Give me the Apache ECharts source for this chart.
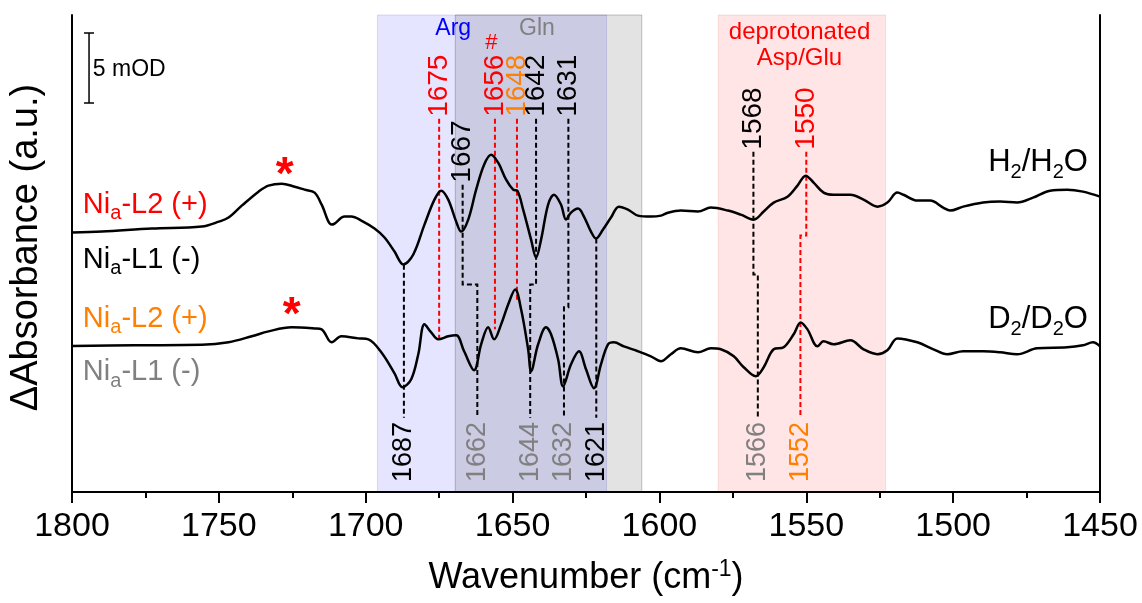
<!DOCTYPE html>
<html><head><meta charset="utf-8">
<script src="https://cdn.jsdelivr.net/npm/echarts@6/dist/echarts.min.js"></script>
<style>html,body{margin:0;padding:0;background:#fff}#c{width:1142px;height:603px}</style>
</head><body><div id="c"></div>
<script>
const FONT = '"Liberation Sans", Arial, Helvetica, sans-serif';

// ---- spectra (wavenumber in cm-1, ΔAbsorbance in mOD, offset traces) ----
const h2oWavenumber = [1800,1789.8,1772.8,1755.8,1750.0,1746.7,1742.2,1736.5,1733.1,1728.6,1724.2,1720.8,1717.4,1715.0,1711.6,1710.6,1707.2,1704.9,1701.5,1697.0,1693.6,1690.2,1687.2,1683.8,1680.0,1676.6,1674.3,1671.9,1669.2,1667.5,1665.1,1662.4,1659.7,1657.3,1654.9,1652.2,1649.8,1648.4,1646.4,1643.7,1642.0,1640.3,1637.9,1635.9,1633.5,1631.8,1630.1,1627.7,1625.7,1623.3,1621.6,1619.2,1616.5,1613.8,1610.7,1607.3,1602.9,1599.5,1597.1,1592.7,1586.9,1582.5,1576.7,1572.3,1567.9,1564.5,1561.1,1556.4,1553.0,1550.2,1547.5,1544.1,1540.7,1535.0,1530.5,1525.8,1522.4,1519.0,1516.9,1512.2,1507.8,1503.4,1501.0,1496.6,1489.8,1484.0,1478.2,1472.8,1467.0,1461.2,1455.8,1450];
const h2oAbsorbance = [18.49,18.56,18.78,18.92,19.27,19.56,20.41,21.41,21.84,21.98,21.76,21.55,21.34,20.48,19.06,19.13,19.63,19.63,19.35,18.78,18.14,17.14,16.22,16.93,19.06,20.84,21.48,20.84,19.27,18.56,19.42,21.55,23.33,24.04,23.47,22.26,21.55,21.48,20.13,17.99,16.71,17.99,20.48,21.19,20.48,19.42,19.91,20.20,19.63,18.56,18.07,18.71,19.56,20.34,20.13,19.70,19.63,19.70,19.91,20.06,19.99,20.27,20.06,19.77,19.42,19.99,20.63,21.05,21.84,22.55,22.05,21.34,21.19,21.19,20.84,20.34,20.63,21.34,21.19,20.77,20.77,20.27,20.06,20.34,20.63,20.70,20.63,20.98,21.48,21.55,21.41,21.05];

const d2oWavenumber = [1800,1778.6,1755.8,1746.7,1738.8,1733.1,1725.2,1717.4,1715.0,1711.6,1708.3,1702.5,1699.1,1694.7,1690.2,1687.5,1684.5,1682.1,1680.0,1677.7,1675.3,1671.9,1669.2,1666.5,1663.1,1660.7,1658.3,1656.3,1653.9,1651.5,1649.1,1647.1,1644.7,1643.7,1641.3,1638.6,1636.9,1634.5,1632.8,1630.1,1627.4,1625.0,1622.3,1619.9,1617.5,1615.5,1612.1,1607.3,1602.9,1599.5,1596.1,1592.7,1586.9,1582.5,1579.1,1574.7,1571.3,1567.2,1564.5,1561.1,1557.7,1554.3,1551.9,1549.6,1546.2,1544.1,1540.7,1535.0,1530.5,1525.8,1522.4,1519.0,1512.2,1506.7,1502.0,1496.6,1489.8,1484.0,1478.2,1471.4,1461.2,1455.8,1452.4,1450];
const d2oAbsorbance = [10.41,10.46,10.49,10.67,11.10,11.45,11.74,11.66,11.59,10.67,11.10,10.95,10.88,9.96,8.46,7.47,8.04,9.82,11.95,11.38,10.88,11.10,11.17,10.03,8.68,10.53,11.74,10.88,11.95,13.37,14.44,13.02,10.17,8.61,10.53,11.74,11.24,9.46,7.54,9.10,10.03,8.75,7.40,9.10,10.53,10.67,10.38,10.03,9.67,9.32,9.82,10.24,9.96,10.24,10.17,9.67,8.89,8.25,8.89,10.17,10.31,11.24,12.09,11.59,10.38,10.74,10.53,10.81,10.17,9.82,10.10,10.95,10.67,10.17,9.82,10.03,10.03,9.96,9.82,10.24,10.31,10.46,10.67,10.38];

// ---- axis ----
const xMin = 1450, xMax = 1800, xStep = 50;
const yMin = 0, yMax = 34;

// ---- shaded band assignments [from, to] cm-1 ----
const argBand = [1696, 1618];
const glnBand = [1669.5, 1606];
const aspGluBand = [1580, 1523];

// ---- peak labels ----
const topPeaks   = [1675, 1667, 1656, 1648.5, 1642, 1631, 1568, 1550];
const topTexts   = ['1675','1667','1656','1648','1642','1631','1568','1550'];
const topColors  = ['red','black','red','orange','black','black','black','red'];
const botPeaks   = [1687, 1662, 1644, 1632.5, 1621.5, 1566.5, 1552];
const botTexts   = ['1687','1662','1644','1632','1621','1566','1552'];
const botColors  = ['black','gray','gray','gray','black','gray','orange'];

// ---- connector paths (wavenumber, mOD) ----
const connectorPaths = [
  {color:'red',   pts:[[1675,26.6],[1675,10.9]]},
  {color:'black', pts:[[1667,21.9],[1667,14.79],[1662,14.79],[1662,5.3]]},
  {color:'red',   pts:[[1656,26.6],[1656,11.6]]},
  {color:'red',   pts:[[1648.5,26.6],[1648.5,13.7]]},
  {color:'black', pts:[[1642,26.6],[1642,14.79],[1644,14.79],[1644,5.3]]},
  {color:'black', pts:[[1631,26.6],[1631,13.16],[1632.5,13.16],[1632.5,5.3]]},
  {color:'black', pts:[[1621.5,18.07],[1621.5,5.3]]},
  {color:'black', pts:[[1687,16.2],[1687,5.3]]},
  {color:'black', pts:[[1568,24.25],[1568,15.5],[1566.5,15.5],[1566.5,5.3]]},
  {color:'red',   pts:[[1550,24.25],[1550,18.28],[1552,18.28],[1552,5.3]]}
];

const COL = {red:'#ff0000', black:'#000000', gray:'#808080', orange:'#ff7f00', blue:'#0000ff'};

const zip = (a, b) => a.map((v, i) => [v, b[i]]);

// text items placed in data coordinates
function txt(pos, formatter, opt) {
  return {
    value: pos,
    itemStyle: {opacity: 1},
    label: Object.assign({
      show: true, position: 'inside', formatter: formatter, opacity: 1,
      fontFamily: FONT, color: '#000', fontSize: 26
    }, opt)
  };
}

const topLabelY = [26.74, 22.05, 26.74, 26.74, 26.74, 26.74, 24.4, 24.4];
const botLabelY = 0.71;

const texts = [];
topPeaks.forEach((w, i) => texts.push(txt([w, topLabelY[i]], topTexts[i],
  {rotate: 90, align: 'left', verticalAlign: 'middle', fontSize: 28, color: COL[topColors[i]]})));
botPeaks.forEach((w, i) => texts.push(txt([w, botLabelY], botTexts[i],
  {rotate: 90, align: 'left', verticalAlign: 'middle', fontSize: 27, color: COL[botColors[i]]})));

const subRich = (pad) => ({s: {fontSize: 20, lineHeight: 20, padding: [pad, 0, 0, 0], fontFamily: FONT}});
texts.push(txt([1657.2, 32.0], '#', {fontSize: 22, color: COL.red}));
texts.push(txt([1670.2, 33.0], 'Arg', {fontSize: 23, color: COL.blue}));
texts.push(txt([1641.7, 33.0], 'Gln', {fontSize: 23, color: COL.gray}));
texts.push(txt([1552.3, 31.86], 'deprotonated\nAsp/Glu', {fontSize: 24, lineHeight: 26, color: COL.red}));
texts.push(txt([1792.9, 30.1], '5 mOD', {fontSize: 23, align: 'left', verticalAlign: 'middle'}));
texts.push(txt([1796.3, 20.48], 'Ni{s|a}-L2 (+)', {fontSize: 29, lineHeight: 30, align: 'left', color: COL.red, rich: subRich(18)}));
texts.push(txt([1796.3, 16.57], 'Ni{s|a}-L1 (-)', {fontSize: 29, lineHeight: 30, align: 'left', color: COL.black, rich: subRich(18)}));
texts.push(txt([1796.3, 12.35], 'Ni{s|a}-L2 (+)', {fontSize: 29, lineHeight: 30, align: 'left', color: COL.orange, rich: subRich(18)}));
texts.push(txt([1796.3, 8.55], 'Ni{s|a}-L1 (-)', {fontSize: 29, lineHeight: 30, align: 'left', color: COL.gray, rich: subRich(18)}));
texts.push(txt([1454.1, 23.47], 'H{s|2}/H{s|2}O', {fontSize: 31, lineHeight: 31, align: 'right', rich: subRich(20)}));
texts.push(txt([1454.1, 12.3], 'D{s|2}/D{s|2}O', {fontSize: 31, lineHeight: 31, align: 'right', rich: subRich(20)}));
texts.push(txt([1727.6, 22.47], '*', {fontSize: 46, fontWeight: 'bold', color: COL.red}));
texts.push(txt([1725.2, 12.52], '*', {fontSize: 46, fontWeight: 'bold', color: COL.red}));

const axisLineStyle = {color: '#000', width: 2};

const option = {
  animation: false,
  backgroundColor: '#fff',
  grid: {left: 70, right: 42, top: 15, bottom: 110, containLabel: false},
  xAxis: [{
    type: 'value', min: xMin, max: xMax, interval: xStep, inverse: true, position: 'bottom', z: 10,
    axisLine: {show: true, lineStyle: axisLineStyle},
    axisTick: {show: true, inside: false, length: 11, lineStyle: {color: '#000', width: 2}},
    minorTick: {show: true, splitNumber: 2, length: 6, lineStyle: {color: '#000', width: 2}},
    axisLabel: {fontSize: 34, color: '#000', margin: 18, fontFamily: FONT, formatter: v => String(v)},
    splitLine: {show: false}, minorSplitLine: {show: false},
    name: 'Wavenumber (cm{sup|-1})', nameLocation: 'middle', nameGap: 68,
    nameTextStyle: {fontSize: 36, color: '#000', fontFamily: FONT, lineHeight: 36,
      rich: {sup: {fontSize: 23, lineHeight: 23, padding: [0, 0, 17, 0], fontFamily: FONT, color: '#000'}}}
  }, {
    type: 'value', min: xMin, max: xMax, inverse: true, position: 'top', z: 10,
    axisLine: {show: true, lineStyle: axisLineStyle},
    axisTick: {show: false}, axisLabel: {show: false}, splitLine: {show: false}
  }],
  yAxis: [{
    type: 'value', min: yMin, max: yMax, position: 'left', z: 10,
    axisLine: {show: true, lineStyle: axisLineStyle},
    axisTick: {show: false}, axisLabel: {show: false}, splitLine: {show: false},
    name: 'ΔAbsorbance (a.u.)', nameLocation: 'middle', nameGap: 26,
    nameTextStyle: {fontSize: 38, color: '#000', fontFamily: FONT, padding: [0, 0, 0, 12]}
  }, {
    type: 'value', min: yMin, max: yMax, position: 'right', z: 10,
    axisLine: {show: true, lineStyle: axisLineStyle},
    axisTick: {show: false}, axisLabel: {show: false}, splitLine: {show: false}
  }],
  series: [
    {
      type: 'line', data: [], silent: true, z: 1,
      markArea: {
        silent: true,
        data: [
          [{xAxis: argBand[0], itemStyle: {color: 'rgba(0,0,255,0.10)', borderColor: 'rgba(0,0,200,0.12)', borderWidth: 1}}, {xAxis: argBand[1]}],
          [{xAxis: glnBand[0], itemStyle: {color: 'rgba(0,0,0,0.11)', borderColor: 'rgba(0,0,0,0.22)', borderWidth: 1}}, {xAxis: glnBand[1]}],
          [{xAxis: aspGluBand[0], itemStyle: {color: 'rgba(255,0,0,0.10)', borderColor: 'rgba(200,0,0,0.10)', borderWidth: 1}}, {xAxis: aspGluBand[1]}]
        ]
      }
    },
    {
      type: 'lines', coordinateSystem: 'cartesian2d', polyline: true, silent: true, z: 3,
      lineStyle: {width: 2, type: [5, 3], opacity: 1},
      data: connectorPaths.map(c => ({coords: c.pts, lineStyle: {color: COL[c.color], opacity: 1, width: 2, type: [5, 3]}}))
    },
    {
      type: 'lines', coordinateSystem: 'cartesian2d', polyline: true, silent: true, z: 3,
      lineStyle: {width: 1.5, color: '#000', opacity: 1},
      data: [
        {coords: [[1794.2, 27.72], [1794.2, 32.72]]},
        {coords: [[1795.9, 27.72], [1792.5, 27.72]]},
        {coords: [[1795.9, 32.72], [1792.5, 32.72]]}
      ]
    },
    {
      name: 'H2/H2O', type: 'line', data: zip(h2oWavenumber, h2oAbsorbance), smooth: 0.35,
      symbol: 'none', silent: true, z: 4, lineStyle: {color: '#000', width: 2.5}
    },
    {
      name: 'D2/D2O', type: 'line', data: zip(d2oWavenumber, d2oAbsorbance), smooth: 0.35,
      symbol: 'none', silent: true, z: 4, lineStyle: {color: '#000', width: 2.5}
    },
    {
      type: 'scatter', symbolSize: 0, silent: true, z: 6, itemStyle: {opacity: 1}, data: texts
    }
  ]
};

const chart = echarts.init(document.getElementById('c'), null, {renderer: 'canvas'});
chart.setOption(option);
</script>
</body></html>
